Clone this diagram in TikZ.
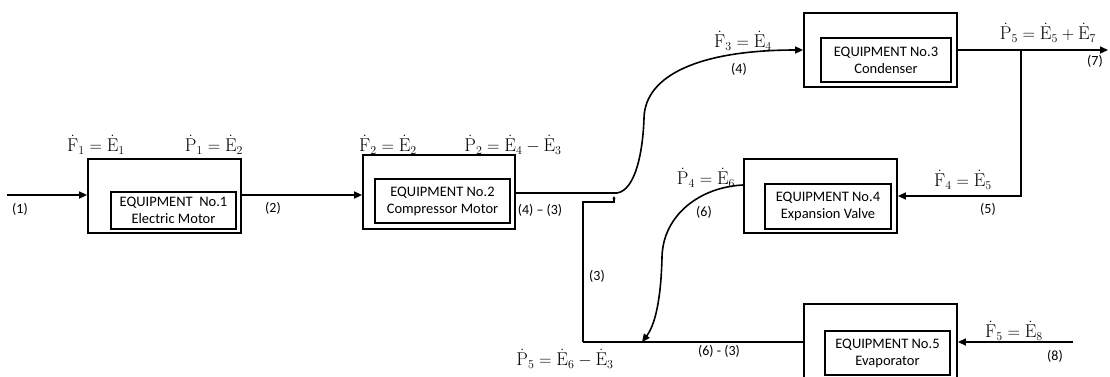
\documentclass[tikz,border=0pt]{standalone}
\usepackage{fontspec}
\usepackage{amsmath}
\setsansfont{Carlito}
\usetikzlibrary{arrows.meta,calc}
\newcommand{\dF}{\dot{\mathrm{F}}}
\newcommand{\dE}{\dot{\mathrm{E}}}
\newcommand{\dP}{\dot{\mathrm{P}}}
\begin{document}
\begin{tikzpicture}[x=1pt,y=-1pt,
  outer/.style={draw,line width=1.8pt,minimum width=153pt,minimum height=74pt,inner sep=0pt},
  inner/.style={draw,line width=1.1pt,inner sep=0pt,align=center,font=\sffamily\fontsize{14.5}{17}\selectfont},
  conn/.style={line width=1.6pt},
  arr/.style={conn,-{Triangle[length=8pt,width=7pt]}},
  thinl/.style={line width=1.1pt},
  num/.style={font=\sffamily\fontsize{14}{16}\selectfont,inner sep=0pt},
  eq/.style={font=\fontsize{18.5}{22}\selectfont,inner sep=0pt}]
\useasboundingbox (0,0) rectangle (1110,376);
% boxes
\node[outer] (b1) at (164.5,196) {};
\node[inner,minimum width=125pt,minimum height=37pt] (i1) at (173.5,210.5) {EQUIPMENT\ \ No.1\\Electric Motor};
\node[outer,minimum width=152pt] (b2) at (439,192) {};
\node[inner,minimum width=135pt,minimum height=44pt] (i2) at (442.5,201) {EQUIPMENT No.2\\Compressor Motor};
\node[outer] (b3) at (880.5,50) {};
\node[inner,minimum width=130pt,minimum height=44pt] (i3) at (886,60) {EQUIPMENT No.3\\Condenser};
\node[outer] (b4) at (820.5,196) {};
\node[inner,minimum width=126pt,minimum height=45pt] (i4) at (828,206.5) {EQUIPMENT No.4\\Expansion Valve};
\node[outer,minimum height=75pt] (b5) at (880.5,341.5) {};
\node[inner,minimum width=125pt,minimum height=44pt] (i5) at (887.5,353) {EQUIPMENT No.5\\Evaporator};
% connectors
\coordinate (s1) at (7,195);
\draw[arr] (s1) -- (s1 -| b1.west);
\draw[arr] (b1.east |- s1) -- (b2.west |- s1);
\coordinate (j1) at (617,193);
\draw[conn] (b2.east |- j1) -- (j1);
\draw[arr] (j1) .. controls (636,190) and (643,150) .. (644,118) .. controls (645,75) and (700,50) .. (b3.west);
\coordinate (o7) at (1108,50);
\draw[arr] (b3.east) -- (o7);
\coordinate (br) at (1021,50);
\draw[arr] (br) -- (br |- b4.east) -- (b4.east);
\coordinate (c6) at ([yshift=11pt]b4.west);
\coordinate (t6) at (642,342);
\draw[arr] (c6) .. controls (700,187) and (663,215) .. (662,257) .. controls (661,300) and (655,325) .. (t6);
\coordinate (bl) at (583,342);
\draw[conn] (b5.west |- bl) -- (bl);
\coordinate (st) at (614,202);
\draw[thinl,-{Triangle[length=3pt,width=3pt]}] (bl) -- (bl |- st) -- (st) -- ++(0,-6);
\coordinate (s8) at (1073,342);
\draw[arr] (s8) -- (s8 -| b5.east);
% equation labels
\node[eq] (e1) at (96,145) {$\dF_1 = \dE_1$};
\node[eq] (e2) at (214,145) {$\dP_1 = \dE_2$};
\node[eq] (e3) at (388,145) {$\dF_2 = \dE_2$};
\node[eq] (e4) at (513,145) {$\dP_2 = \dE_4 - \dE_3$};
\node[eq] (e5) at (743,41) {$\dF_3 = \dE_4$};
\node[eq] (e6) at (1048,33) {$\dP_5 = \dE_5 + \dE_7$};
\node[eq] (e7) at (706,178) {$\dP_4 = \dE_6$};
\node[eq] (e8) at (963,180) {$\dF_4 = \dE_5$};
\node[eq] (e9) at (1014,331) {$\dF_5 = \dE_8$};
\node[eq] (e10) at (565,359) {$\dP_5 = \dE_6 - \dE_3$};
% stream numbers
\node[num] (n1) at (20,209) {(1)};
\node[num] (n2) at (273,208) {(2)};
\node[num] (n43) at (540,210) {(4) – (3)};
\node[num] (n4) at (739,69) {(4)};
\node[num] (n7) at (1095,61) {(7)};
\node[num] (n5) at (988,209) {(5)};
\node[num] (n6) at (704,212) {(6)};
\node[num] (n3) at (597,276) {(3)};
\node[num] (n63) at (719,351) {(6) - (3)};
\node[num] (n8) at (1055,356) {(8)};
\end{tikzpicture}
\end{document}
